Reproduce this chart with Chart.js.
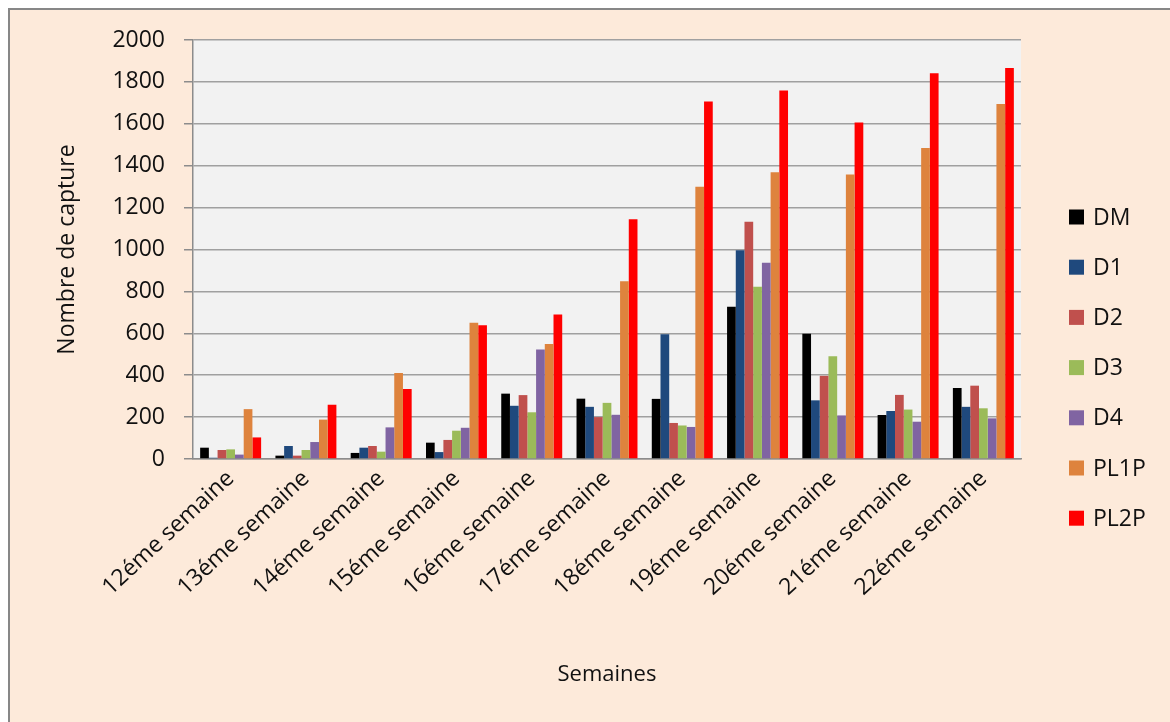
<!DOCTYPE html>
<html>
<head>
<meta charset="utf-8">
<script src="https://cdn.jsdelivr.net/npm/chart.js@4/dist/chart.umd.min.js"></script>
<style>
  html, body { margin: 0; padding: 0; background: #ffffff; }
  #wrap { position: relative; width: 1170px; height: 722px; overflow: hidden; }
  #frame {
    position: absolute; left: 8px; top: 8px; width: 1300px; height: 900px;
    background: #FDEADA; border-left: 2.5px solid #878787; border-top: 2.5px solid #878787;
  }
  #c { position: absolute; left: 0; top: 0; }
</style>
</head>
<body>
<div id="wrap">
  <div id="frame"></div>
  <canvas id="c" width="1170" height="722"></canvas>
</div>
<script>
// Weekly capture counts per trap type
const weeks = ['12éme semaine', '13éme semaine', '14éme semaine', '15éme semaine', '16éme semaine',
  '17éme semaine', '18éme semaine', '19éme semaine', '20éme semaine', '21éme semaine', '22éme semaine'];
const DM   = [54, 16, 29, 78, 312, 288, 287, 727, 598, 210, 339];
const D1   = [6, 62, 54, 33, 254, 249, 595, 997, 280, 229, 249];
const D2   = [43, 16, 62, 91, 305, 200, 172, 1133, 397, 306, 350];
const D3   = [46, 43, 35, 135, 223, 268, 160, 822, 491, 236, 242];
const D4   = [21, 81, 151, 149, 523, 211, 153, 937, 208, 178, 194];
const PL1P = [238, 188, 410, 650, 549, 848, 1300, 1369, 1358, 1485, 1695];
const PL2P = [103, 259, 334, 638, 690, 1144, 1706, 1759, 1606, 1841, 1866];
const yTicks = [0, 200, 400, 600, 800, 1000, 1200, 1400, 1600, 1800, 2000];

const FONT = "'Open Sans', 'Noto Sans', sans-serif";

const series = [
  { label: 'DM', data: DM, color: '#000000' },
  { label: 'D1', data: D1, color: '#1F497D' },
  { label: 'D2', data: D2, color: '#C0504D' },
  { label: 'D3', data: D3, color: '#9BBB59' },
  { label: 'D4', data: D4, color: '#8064A2' },
  { label: 'PL1P', data: PL1P, color: '#DE833D' },
  { label: 'PL2P', data: PL2P, color: '#FF0000' }
];

// Grey plot-area fill behind the bars
const plotBackground = {
  id: 'plotBackground',
  beforeDraw(chart) {
    const { ctx, chartArea: a } = chart;
    ctx.save();
    ctx.fillStyle = '#F2F2F2';
    ctx.fillRect(a.left, a.top, a.right - a.left, a.bottom - a.top);
    ctx.restore();
  }
};

// Legend column on the right, one square swatch per dataset
const sideLegend = {
  id: 'sideLegend',
  afterDraw(chart) {
    const ctx = chart.ctx;
    const x0 = 1069, y0 = 217, step = 50.2, box = 15;
    ctx.save();
    ctx.font = '23px ' + FONT;
    ctx.textBaseline = 'middle';
    ctx.textAlign = 'left';
    chart.data.datasets.forEach((ds, i) => {
      const cy = y0 + i * step;
      ctx.fillStyle = ds.backgroundColor;
      ctx.fillRect(x0, cy - box / 2, box, box);
      ctx.fillStyle = '#111111';
      ctx.fillText(ds.label, x0 + 24, cy + 1);
    });
    ctx.restore();
  }
};

new Chart(document.getElementById('c'), {
  type: 'bar',
  data: {
    labels: weeks,
    datasets: series.map(s => ({
      label: s.label,
      data: s.data,
      backgroundColor: s.color,
      borderWidth: 0,
      categoryPercentage: 0.81,
      barPercentage: 1.0
    }))
  },
  options: {
    responsive: false,
    animation: false,
    devicePixelRatio: 1,
    layout: { padding: { left: 50, top: 40, right: 149, bottom: 22 } },
    plugins: {
      legend: { display: false },
      tooltip: { enabled: false }
    },
    scales: {
      x: {
        grid: { display: false, drawTicks: false },
        border: { display: true, color: '#8C8C8C', width: 1.5 },
        ticks: {
          autoSkip: false,
          minRotation: 43,
          maxRotation: 43,
          padding: 6,
          color: '#111111',
          font: { family: FONT, size: 23 }
        },
        title: {
          display: true,
          text: 'Semaines',
          color: '#111111',
          font: { family: FONT, size: 22 },
          padding: { top: 0, bottom: 12 }
        },
        afterFit(scale) { scale.height = 241; }
      },
      y: {
        min: 0,
        max: 2000,
        afterBuildTicks(scale) { scale.ticks = yTicks.map(v => ({ value: v })); },
        grid: { color: '#A0A0A0', lineWidth: 1.5, drawTicks: true, tickLength: 9, tickColor: '#8C8C8C' },
        border: { display: true, color: '#8C8C8C', width: 1.5 },
        ticks: {
          padding: 19,
          color: '#111111',
          font: { family: FONT, size: 23 },
          callback: v => String(v)
        },
        title: {
          display: true,
          text: 'Nombre de capture',
          color: '#111111',
          font: { family: FONT, size: 23 },
          padding: { top: 4, bottom: 0 }
        },
        afterFit(scale) { scale.width = 143; }
      }
    }
  },
  plugins: [plotBackground, sideLegend]
});
</script>
</body>
</html>
